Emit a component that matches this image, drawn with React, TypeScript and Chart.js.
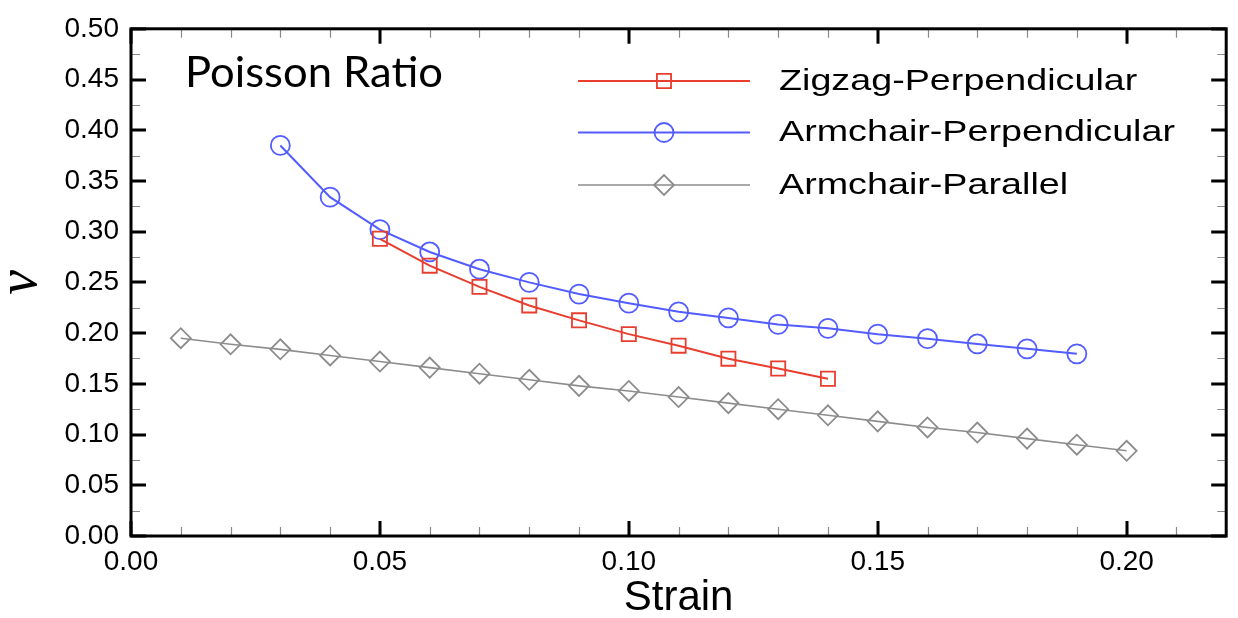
import React, { useEffect, useRef } from 'react';
import { Chart, registerables } from 'chart.js';

Chart.register(...registerables);

// ---- Data ----
const seriesLabels = ['Zigzag-Perpendicular', 'Armchair-Perpendicular', 'Armchair-Parallel'];

const strainZigzagPerp = [0.05, 0.06, 0.07, 0.08, 0.09, 0.10, 0.11, 0.12, 0.13, 0.14];
const nuZigzagPerp = [0.293, 0.2665, 0.2456, 0.2273, 0.2126, 0.199, 0.1876, 0.1748, 0.1651, 0.155];

const strainArmchairPerp = [0.03, 0.04, 0.05, 0.06, 0.07, 0.08, 0.09, 0.10, 0.11, 0.12, 0.13, 0.14, 0.15, 0.16, 0.17, 0.18, 0.19];
const nuArmchairPerp = [0.385, 0.334, 0.302, 0.280, 0.263, 0.250, 0.2385, 0.2295, 0.221, 0.215, 0.2086, 0.2047, 0.199, 0.1945, 0.1893, 0.1845, 0.1796];

const strainArmchairPar = [0.01, 0.02, 0.03, 0.04, 0.05, 0.06, 0.07, 0.08, 0.09, 0.10, 0.11, 0.12, 0.13, 0.14, 0.15, 0.16, 0.17, 0.18, 0.19, 0.20];
const nuArmchairPar = [0.195, 0.189, 0.184, 0.178, 0.172, 0.166, 0.160, 0.154, 0.148, 0.143, 0.137, 0.131, 0.125, 0.119, 0.113, 0.107, 0.102, 0.096, 0.090, 0.084];

const xTickValues = [0, 0.05, 0.10, 0.15, 0.20];
const yTickValues = [0, 0.05, 0.10, 0.15, 0.20, 0.25, 0.30, 0.35, 0.40, 0.45, 0.50];
const xMinorStep = 0.01;
const yMinorStep = 0.025;
const xRange = [0, 0.22];
const yRange = [0, 0.5];

const annotationText = 'Poisson Ratio';
const xTitle = 'Strain';
const yTitle = 'ν';

const colors = {
  red: 'rgb(232, 62, 48)',
  blue: 'rgb(82, 92, 255)',
  gray: 'rgb(140, 140, 140)',
};
const pointStyles = ['rect', 'circle', 'rectRot'];
const pointRadii = [10, 9.5, 10];

const toXY = (xs: number[], ys: number[]) => xs.map((x, i) => ({ x, y: ys[i] }));

const framePlugin = {
  id: 'frameTicks',
  afterDraw(chart: any) {
    const { ctx, chartArea: a, scales } = chart;
    const xs = scales.x;
    const ys = scales.y;
    ctx.save();
    // minor ticks
    ctx.strokeStyle = '#8a8a8a';
    ctx.lineWidth = 1.2;
    const minorLen = 9;
    const nx = Math.round((xRange[1] - xRange[0]) / xMinorStep);
    for (let i = 0; i <= nx; i++) {
      const px = Math.round(xs.getPixelForValue(xRange[0] + i * xMinorStep)) + 0.5;
      ctx.beginPath();
      ctx.moveTo(px, a.bottom); ctx.lineTo(px, a.bottom - minorLen);
      ctx.moveTo(px, a.top); ctx.lineTo(px, a.top + minorLen);
      ctx.stroke();
    }
    const ny = Math.round((yRange[1] - yRange[0]) / yMinorStep);
    for (let i = 0; i <= ny; i++) {
      const py = Math.round(ys.getPixelForValue(yRange[0] + i * yMinorStep)) + 0.5;
      ctx.beginPath();
      ctx.moveTo(a.left, py); ctx.lineTo(a.left + minorLen, py);
      ctx.moveTo(a.right, py); ctx.lineTo(a.right - minorLen, py);
      ctx.stroke();
    }
    // major ticks
    ctx.strokeStyle = '#000';
    ctx.lineWidth = 3;
    const majorLen = 15;
    xTickValues.forEach((v) => {
      const px = Math.round(xs.getPixelForValue(v));
      ctx.beginPath();
      ctx.moveTo(px, a.bottom); ctx.lineTo(px, a.bottom - majorLen);
      ctx.moveTo(px, a.top); ctx.lineTo(px, a.top + majorLen);
      ctx.stroke();
    });
    yTickValues.forEach((v) => {
      const py = Math.round(ys.getPixelForValue(v));
      ctx.beginPath();
      ctx.moveTo(a.left, py); ctx.lineTo(a.left + majorLen, py);
      ctx.moveTo(a.right, py); ctx.lineTo(a.right - majorLen, py);
      ctx.stroke();
    });
    // frame
    ctx.lineWidth = 3;
    ctx.strokeRect(a.left, a.top, a.right - a.left, a.bottom - a.top);

    // annotation text
    ctx.fillStyle = '#000';
    ctx.font = '42px Lato, "Open Sans", sans-serif';
    ctx.textBaseline = 'alphabetic';
    ctx.textAlign = 'left';
    const tw = ctx.measureText(annotationText).width;
    ctx.save();
    ctx.translate(185, 87);
    ctx.scale(258 / tw, 1);
    ctx.fillText(annotationText, 0, 0);
    ctx.restore();

    // legend
    const legendRows = [81, 132.5, 185];
    const lineX0 = 578, lineX1 = 750, markX = 664, textX = 779;
    ctx.font = '29px "Liberation Sans", Arial, sans-serif';
    const refW = ctx.measureText(seriesLabels[1]).width;
    const sx = 396 / refW;
    chart.data.datasets.forEach((ds: any, i: number) => {
      const yy = legendRows[i];
      ctx.strokeStyle = ds.borderColor;
      ctx.lineWidth = ds.borderWidth;
      ctx.beginPath();
      ctx.moveTo(lineX0, yy); ctx.lineTo(lineX1, yy);
      ctx.stroke();
      ctx.lineWidth = ds.pointBorderWidth;
      ctx.strokeStyle = ds.pointBorderColor;
      const r = ds.pointRadius;
      ctx.beginPath();
      if (ds.pointStyle === 'rect') {
        const s = r * Math.SQRT1_2;
        ctx.rect(markX - s, yy - s, 2 * s, 2 * s);
      } else if (ds.pointStyle === 'circle') {
        ctx.arc(markX, yy, r, 0, Math.PI * 2);
      } else {
        ctx.moveTo(markX - r, yy); ctx.lineTo(markX, yy - r);
        ctx.lineTo(markX + r, yy); ctx.lineTo(markX, yy + r);
        ctx.closePath();
      }
      ctx.stroke();
      ctx.fillStyle = '#000';
      ctx.save();
      ctx.translate(textX, yy + 8.5);
      ctx.scale(sx, 1);
      ctx.fillText(ds.label, 0, 0);
      ctx.restore();
    });
    ctx.restore();
  },
};

export default function App() {
  const canvasRef = useRef<HTMLCanvasElement | null>(null);

  useEffect(() => {
    if (!canvasRef.current) return;
    const tickFont = { family: '"Liberation Sans", Arial, sans-serif', size: 28 };
    const mk = (i: number, xs: number[], ys: number[], color: string, lw: number) => ({
      label: seriesLabels[i],
      data: toXY(xs, ys),
      borderColor: color,
      borderWidth: lw,
      pointStyle: pointStyles[i],
      pointRadius: pointRadii[i],
      pointBorderColor: color,
      pointBorderWidth: 1.8,
      pointBackgroundColor: 'rgba(0,0,0,0)',
      tension: 0,
      fill: false,
    });
    const chart = new Chart(canvasRef.current, {
      type: 'scatter',
      data: {
        datasets: [
          { ...mk(0, strainZigzagPerp, nuZigzagPerp, colors.red, 2), showLine: true },
          { ...mk(1, strainArmchairPerp, nuArmchairPerp, colors.blue, 2), showLine: true },
          { ...mk(2, strainArmchairPar, nuArmchairPar, colors.gray, 1.6), showLine: true },
        ] as any,
      },
      options: {
        animation: false,
        responsive: false,
        layout: { padding: { top: 18, right: 6, left: 0, bottom: 0 } },
        plugins: { legend: { display: false }, tooltip: { enabled: false } },
        scales: {
          x: {
            type: 'linear',
            min: xRange[0],
            max: xRange[1],
            grid: { display: false, drawTicks: false },
            border: { display: false },
            afterBuildTicks: (s: any) => { s.ticks = xTickValues.map((v) => ({ value: v })); },
            afterFit: (s: any) => { s.height = 82; },
            ticks: {
              font: tickFont,
              color: '#000',
              padding: 9,
              maxRotation: 0,
              autoSkip: false,
              callback: (v: any) => Number(v).toFixed(2),
            },
            title: {
              display: true,
              text: xTitle,
              color: '#000',
              font: { family: '"Liberation Sans", Arial, sans-serif', size: 42, lineHeight: 0.93 },
              padding: 0,
            },
          },
          y: {
            type: 'linear',
            min: yRange[0],
            max: yRange[1],
            grid: { display: false, drawTicks: false },
            border: { display: false },
            afterBuildTicks: (s: any) => { s.ticks = yTickValues.map((v) => ({ value: v })); },
            afterFit: (s: any) => { s.width = 131; },
            ticks: {
              font: tickFont,
              color: '#000',
              padding: 12,
              autoSkip: false,
              callback: (v: any) => Number(v).toFixed(2),
            },
            title: {
              display: true,
              text: yTitle,
              color: '#000',
              font: { family: '"Liberation Serif", "DejaVu Serif", serif', size: 56, style: 'italic', lineHeight: 0.75 },
              padding: 0,
            },
          },
        },
      } as any,
      plugins: [framePlugin],
    });
    return () => chart.destroy();
  }, []);

  return (
    <div style={{ position: 'fixed', left: 0, top: 0, width: 1238, height: 618, background: '#fff' }}>
      <canvas ref={canvasRef} width={1238} height={618} />
    </div>
  );
}
